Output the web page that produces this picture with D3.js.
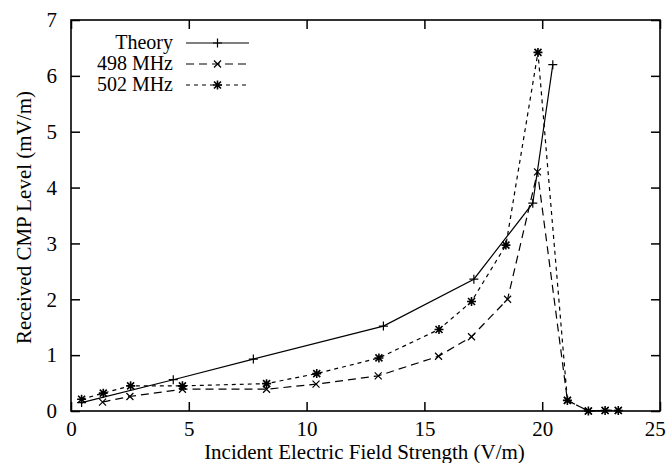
<!DOCTYPE html>
<html>
<head>
<meta charset="utf-8">
<script src="https://cdn.jsdelivr.net/npm/d3@7"></script>
<style>
  body { margin: 0; background: #fff; }
  svg text { font-family: "Liberation Serif", "Times New Roman", Times, "DejaVu Serif", serif; fill: #000; }
</style>
</head>
<body>
<div id="chart"></div>
<script>
// Theory curve
const theoryX = [0.45, 4.34, 7.74, 13.26, 17.1, 19.6, 20.45];
const theoryY = [0.15, 0.56, 0.93, 1.52, 2.36, 3.72, 6.2];
// measured at 498 MHz
const f498X = [1.34, 2.5, 4.73, 8.3, 10.4, 13.04, 15.6, 17.0, 18.53, 19.8, 21.07, 21.96, 22.67, 23.23];
const f498Y = [0.16, 0.26, 0.39, 0.39, 0.48, 0.63, 0.98, 1.33, 2.0, 4.28, 0.19, 0.0, 0.01, 0.01];
// measured at 502 MHz
const f502X = [0.45, 1.37, 2.53, 4.73, 8.3, 10.43, 13.07, 15.62, 17.0, 18.46, 19.82, 21.07, 21.96, 22.67, 23.23];
const f502Y = [0.21, 0.32, 0.45, 0.45, 0.49, 0.67, 0.95, 1.46, 1.96, 2.97, 6.42, 0.19, 0.0, 0.01, 0.01];

const xTicks = [0, 5, 10, 15, 20, 25];
const yTicks = [0, 1, 2, 3, 4, 5, 6, 7];

const width = 667, height = 463;
const margin = {top: 20, right: 7, bottom: 52, left: 71};
const fontFamily = '"Liberation Serif", "Times New Roman", Times, serif';

const svg = d3.select("#chart").append("svg")
    .attr("width", width)
    .attr("height", height)
    .attr("font-family", fontFamily);

const x = d3.scaleLinear().domain([0, 25]).range([margin.left, width - margin.right]);
const y = d3.scaleLinear().domain([0, 7]).range([height - margin.bottom, margin.top]);

const tickLen = 9;

// ticks on all four sides, pointing in
const gx = svg.append("g").attr("transform", `translate(0,${y(0)})`)
    .call(d3.axisBottom(x).tickValues(xTicks).tickSize(-tickLen).tickPadding(10).tickSizeOuter(0).tickFormat(d3.format("d")));
svg.append("g").attr("transform", `translate(0,${y(7)})`)
    .call(d3.axisTop(x).tickValues(xTicks).tickSize(-tickLen).tickSizeOuter(0).tickFormat(""));
const gy = svg.append("g").attr("transform", `translate(${x(0)},0)`)
    .call(d3.axisLeft(y).tickValues(yTicks).tickSize(-tickLen).tickPadding(14).tickSizeOuter(0).tickFormat(d3.format("d")));
svg.append("g").attr("transform", `translate(${x(25)},0)`)
    .call(d3.axisRight(y).tickValues(yTicks).tickSize(-tickLen).tickSizeOuter(0).tickFormat(""));

svg.selectAll(".domain").remove();
svg.selectAll(".tick line").attr("stroke", "#000").attr("stroke-width", 1.5);
svg.selectAll("g").attr("font-family", fontFamily);
gx.selectAll("text").attr("font-size", 21);
gy.selectAll("text").attr("font-size", 21);
// keep the last x label inside the picture
gx.selectAll(".tick text").filter(d => d === 25).attr("text-anchor", "end").attr("dx", "0.25em");

svg.append("rect")
    .attr("x", x(0)).attr("y", y(7))
    .attr("width", x(25) - x(0)).attr("height", y(0) - y(7))
    .attr("fill", "none").attr("stroke", "#000").attr("stroke-width", 1.6);

// axis titles
svg.append("text")
    .attr("x", (x(0) + x(25)) / 2 - 1).attr("y", 459)
    .attr("text-anchor", "middle").attr("font-size", 21)
    .text("Incident Electric Field Strength (V/m)");
svg.append("text")
    .attr("transform", `translate(31,${(y(0) + y(7)) / 2 + 2}) rotate(-90)`)
    .attr("text-anchor", "middle").attr("font-size", 21)
    .text("Received CMP Level (mV/m)");

const series = [
    {name: "Theory", xs: theoryX, ys: theoryY, dash: null, marker: "plus"},
    {name: "498 MHz", xs: f498X, ys: f498Y, dash: "8,5", marker: "cross"},
    {name: "502 MHz", xs: f502X, ys: f502Y, dash: "4,4", marker: "star"}
];

const line = d3.line().x(d => x(d[0])).y(d => y(d[1]));

function drawMarker(g, type, cx, cy) {
    const s = 4.5, c = 3.5;
    let d = "";
    if (type === "plus" || type === "star")
        d += `M${cx - s},${cy}H${cx + s}M${cx},${cy - s}V${cy + s}`;
    if (type === "cross" || type === "star")
        d += `M${cx - c},${cy - c}L${cx + c},${cy + c}M${cx - c},${cy + c}L${cx + c},${cy - c}`;
    g.append("path").attr("d", d).attr("stroke", "#000")
        .attr("stroke-width", type === "star" ? 1.6 : 1.2).attr("fill", "none");
}

series.forEach(s => {
    const pts = s.xs.map((v, i) => [v, s.ys[i]]);
    const g = svg.append("g");
    g.append("path")
        .attr("d", line(pts))
        .attr("fill", "none")
        .attr("stroke", "#000")
        .attr("stroke-width", 1.2)
        .attr("stroke-dasharray", s.dash);
    pts.forEach(p => drawMarker(g, s.marker, x(p[0]), y(p[1])));
});

// legend
const legend = svg.append("g");
series.forEach((s, i) => {
    const ly = 43 + i * 21;
    legend.append("text")
        .attr("x", 173).attr("y", ly + 6)
        .attr("text-anchor", "end").attr("font-size", 20)
        .text(s.name);
    legend.append("line")
        .attr("x1", 186).attr("x2", 249).attr("y1", ly).attr("y2", ly)
        .attr("stroke", "#000").attr("stroke-width", 1.2)
        .attr("stroke-dasharray", s.dash);
    drawMarker(legend, s.marker, 217.5, ly);
});
</script>
</body>
</html>
